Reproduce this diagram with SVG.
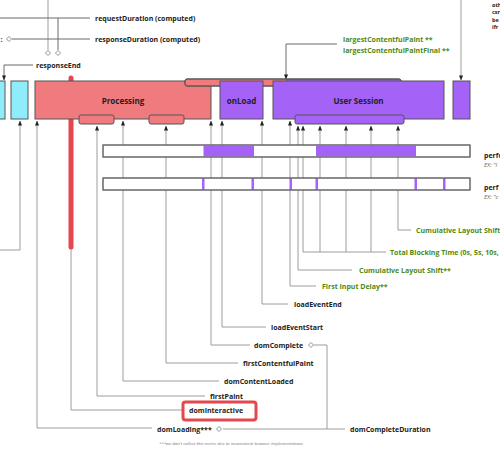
<svg xmlns="http://www.w3.org/2000/svg" width="500" height="451" viewBox="0 0 500 451">
<defs>
<style>
text{font-family:"Open Sans","Liberation Sans",sans-serif;font-weight:700;font-size:7px;fill:#222;dominant-baseline:central}
.g{fill:#4e8a12}
.big{font-size:8px}
.tiny{font-size:4.3px;font-style:italic;font-weight:400;fill:#777}
.ex{font-size:6px;font-style:italic;font-weight:400;fill:#666}
.c{fill:none;stroke:#9c9c9c;stroke-width:1}
.d{fill:none;stroke:#6a6a6a;stroke-width:1}
.dia{fill:#fff;stroke:#777;stroke-width:0.8}
.red{fill:#f07b7e;stroke:#555;stroke-width:1}
.pur{fill:#a462f6;stroke:#555;stroke-width:1}
.cy{fill:#8fedfb;stroke:#555;stroke-width:1}
.bar{fill:#fff;stroke:#666;stroke-width:1}
.seg{fill:#a462f6;stroke:none}
</style>
<marker id="ar" viewBox="0 0 6 6" refX="5.5" refY="3" markerWidth="5" markerHeight="5" orient="auto"><path d="M0,0.5 L6,3 L0,5.5 Z" fill="#222"/></marker>
</defs>

<g id="connectors">
<line x1="48" y1="0" x2="48" y2="50" stroke="#bdbdbd" stroke-width="1.5"/>
<path class="d" d="M0,18 H90 M58,18 V50"/>
<path class="d" d="M12,39 H90"/>
<path class="d" d="M33,65 H4 V80" marker-end="url(#ar)"/>
<path class="d" d="M337,44 H286 V79" marker-end="url(#ar)"/>
<path class="c" d="M461,0 V80" marker-end="url(#ar)"/>
<path class="c" d="M0,250 H20 V121" marker-end="url(#ar)"/>
<path class="c" d="M152,428 H37 V121" marker-end="url(#ar)"/>
<path class="c" d="M182,410 H71 V240" stroke="#bbb"/>
<path class="c" d="M205,396 H97 V126" marker-end="url(#ar)"/>
<path class="c" d="M219,381 H123 V121" marker-end="url(#ar)"/>
<path class="c" d="M238,363 H166 V126" marker-end="url(#ar)"/>
<path class="c" d="M250,345 H211 V121" marker-end="url(#ar)"/>
<path class="c" d="M266,327 H222 V121" marker-end="url(#ar)"/>
<path class="c" d="M288,304 H262 V121" marker-end="url(#ar)"/>
<path class="c" d="M316,286 H290 V121" marker-end="url(#ar)"/>
<path class="c" d="M352,270 H298 V126" marker-end="url(#ar)"/>
<path class="c" d="M386,252 H303 V126" marker-end="url(#ar)"/>
<path class="c" d="M320,252 V126" marker-end="url(#ar)"/>
<path class="c" d="M346,252 V126" marker-end="url(#ar)"/>
<path class="c" d="M371,252 V126" marker-end="url(#ar)"/>
<path class="c" d="M411,230 H398 V126" marker-end="url(#ar)"/>
<path class="c" d="M314,345 H327 V429 M223,429 H345"/>
<line x1="71" y1="78" x2="71" y2="247" stroke="#e5474f" stroke-width="5" stroke-linecap="round"/>
</g>

<g id="diamonds">
<path class="dia" d="M9,36.5 L11.5,39 L9,41.5 L6.5,39 Z"/>
<path class="dia" d="M48,50.5 L50.5,53 L48,55.5 L45.5,53 Z"/>
<path class="dia" d="M58,50.5 L60.5,53 L58,55.5 L55.5,53 Z"/>
<path class="dia" d="M219,426.5 L221.5,429 L219,431.5 L216.5,429 Z"/>
<path class="dia" d="M311,342.5 L313.5,345 L311,347.5 L308.5,345 Z"/>
</g>

<g id="top-labels">
<text x="95" y="18">requestDuration (computed)</text>
<text x="0.5" y="39">:</text>
<text x="95" y="39">responseDuration (computed)</text>
<text x="36" y="65">responseEnd</text>
<text class="g" x="343" y="39">largestContentfulPaint **</text>
<text class="g" x="343" y="50">largestContentfulPaintFinal **</text>
<text x="492" y="4.5" style="font-size:5.5px">oth</text>
<text x="492" y="12" style="font-size:5.5px">csr</text>
<text x="492" y="19.5" style="font-size:5.5px">be</text>
<text x="492" y="27" style="font-size:5.5px">ifr</text>
</g>

<g id="cyan1"><rect class="cy" x="-5" y="81" width="10" height="38"/></g>
<g id="cyan2"><rect class="cy" x="11" y="81" width="17" height="38"/></g>
<g id="processing">
<rect class="red" x="35" y="81" width="176" height="38"/>
<text class="big" x="123" y="100" text-anchor="middle">Processing</text>
</g>
<g id="topbar">
<rect class="pur" x="185" y="79" width="216" height="7" rx="2"/>
<rect x="185.5" y="79.5" width="101" height="6" fill="#f07b7e"/>
<line x1="286.5" y1="79.5" x2="286.5" y2="85.5" stroke="#555" stroke-width="0.6"/>
<rect x="185" y="79" width="216" height="7" rx="2" fill="none" stroke="#555" stroke-width="1"/>
</g>
<g id="onload">
<rect class="pur" x="220" y="81" width="43" height="38"/>
<text class="big" x="241.5" y="100" text-anchor="middle">onLoad</text>
</g>
<g id="usersession">
<rect class="pur" x="273" y="81" width="171" height="38"/>
<text class="big" x="358.5" y="100" text-anchor="middle">User Session</text>
</g>
<g id="rightbox"><rect class="pur" x="453" y="81" width="17" height="38"/></g>
<g id="subbars">
<rect class="red" x="79" y="115" width="35" height="9" rx="2"/>
<rect class="red" x="149" y="115" width="35" height="9" rx="2"/>
<rect class="pur" x="295" y="115" width="109" height="9" rx="2"/>
</g>

<g id="timeline1">
<rect class="bar" x="103" y="145" width="367" height="12"/>
<rect class="seg" x="203.5" y="145.5" width="50.5" height="11"/>
<rect class="seg" x="316" y="145.5" width="100" height="11"/>
<rect x="103" y="145" width="367" height="12" fill="none" stroke="#666" stroke-width="1"/>
<text x="484" y="155">perfo</text>
<text class="ex" x="484" y="165">EX: "I</text>
</g>
<g id="timeline2">
<rect class="bar" x="103" y="178" width="367" height="12"/>
<rect class="seg" x="202" y="178" width="2.5" height="12"/>
<rect class="seg" x="251.5" y="178" width="2.5" height="12"/>
<rect class="seg" x="289.5" y="178" width="2.5" height="12"/>
<rect class="seg" x="315.5" y="178" width="2.5" height="12"/>
<rect class="seg" x="414.5" y="178" width="2.5" height="12"/>
<rect class="seg" x="443" y="178" width="2.5" height="12"/>
<rect x="103" y="178" width="367" height="12" fill="none" stroke="#666" stroke-width="1"/>
<text x="484" y="187">perf</text>
<text class="ex" x="484" y="197">EX: "c</text>
</g>

<g id="bottom-labels">
<text class="g" x="416" y="230">Cumulative Layout Shift</text>
<text class="g" x="390" y="252">Total Blocking Time (0s, 5s, 10s,</text>
<text class="g" x="359" y="270">Cumulative Layout Shift**</text>
<text class="g" x="322" y="286">First Input Delay**</text>
<text x="294" y="304">loadEventEnd</text>
<text x="271" y="327">loadEventStart</text>
<text x="254" y="345">domComplete</text>
<text x="243" y="363">firstContentfulPaint</text>
<text x="224" y="381">domContentLoaded</text>
<text x="210" y="396">firstPaint</text>
<g id="dominteractive">
<rect x="183" y="402" width="73" height="18" rx="2.5" fill="#fff" stroke="#e5474f" stroke-width="3"/>
<text x="189" y="410.5">domInteractive</text>
</g>
<text x="157" y="429">domLoading***</text>
<text x="350" y="429">domCompleteDuration</text>
<text class="tiny" x="159" y="443">***we don't collect this metric due to inconsistent browser implementations</text>
</g>
</svg>
